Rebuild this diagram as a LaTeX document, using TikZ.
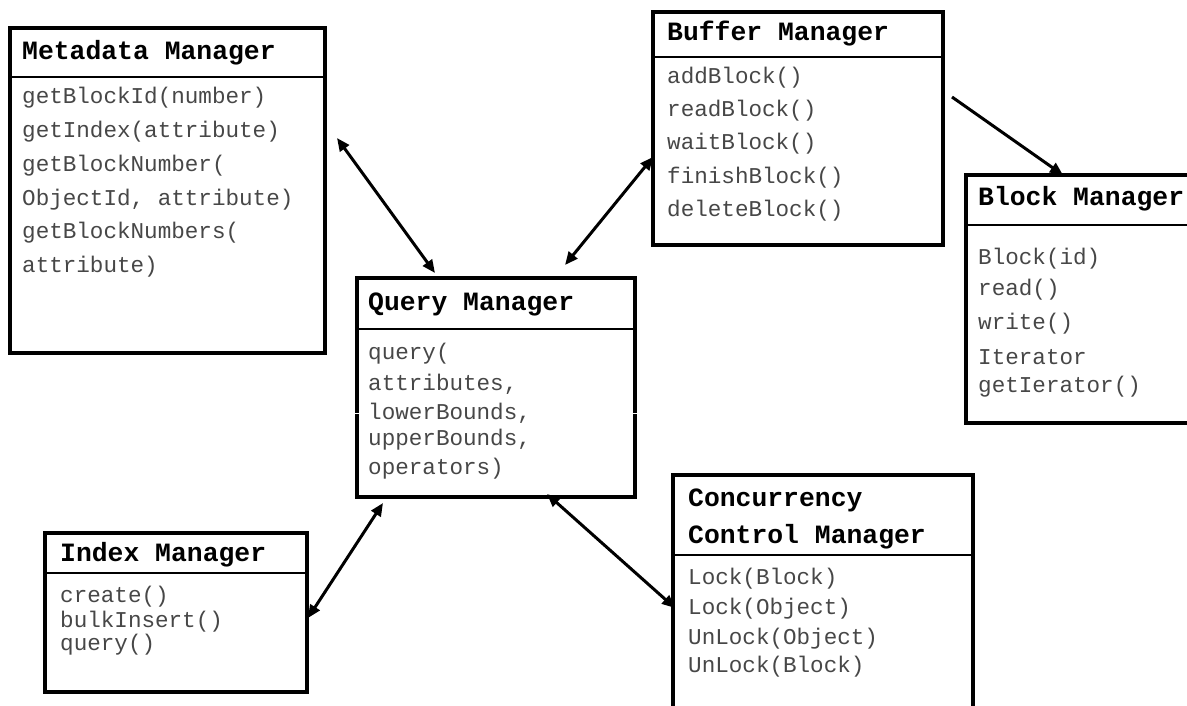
\documentclass[tikz,border=0pt]{standalone}
\usepackage{fontspec}
\setmonofont{Liberation Mono}
\usetikzlibrary{arrows.meta}
\begin{document}
\begin{tikzpicture}[x=1pt,y=-1pt,
  box/.style={draw, rectangle, line width=3.4pt, inner sep=0pt, outer sep=0pt, anchor=north west},
  sep/.style={line width=2pt},
  ttl/.style={anchor=base west, inner sep=0pt, font=\ttfamily\bfseries\fontsize{26.4}{30}\selectfont},
  itm/.style={anchor=base west, inner sep=0pt, text=black!72, font=\ttfamily\fontsize{22.6}{26}\selectfont},
  link/.style={line width=3pt, {Triangle[length=13pt,width=11pt]}-{Triangle[length=13pt,width=11pt]}},
  onelink/.style={line width=3pt, -{Triangle[length=13pt,width=11pt]}}]
\path[use as bounding box, clip] (0,0) rectangle (1187,706);
\fill[white] (0,0) rectangle (1187,706);

% ---------- Metadata Manager
\node[box, minimum width=315pt, minimum height=325pt] (meta) at (10,28) {};
\draw[sep] (meta.west |- 0,77) -- (meta.east |- 0,77);
\node[ttl] (metaT) at (22,60) {Metadata Manager};
\node[itm] (meta1) at (22,104) {getBlockId(number)};
\node[itm] (meta2) at (22,138) {getIndex(attribute)};
\node[itm] (meta3) at (22,172) {getBlockNumber(};
\node[itm] (meta4) at (22,206) {ObjectId, attribute)};
\node[itm] (meta5) at (22,239) {getBlockNumbers(};
\node[itm] (meta6) at (22,272) {attribute)};

% ---------- Buffer Manager
\node[box, minimum width=290pt, minimum height=233pt] (buf) at (653,12) {};
\draw[sep] (buf.west |- 0,57) -- (buf.east |- 0,57);
\node[ttl] (bufT) at (667,41) {Buffer Manager};
\node[itm] (buf1) at (667,84) {addBlock()};
\node[itm] (buf2) at (667,117) {readBlock()};
\node[itm] (buf3) at (667,150) {waitBlock()};
\node[itm] (buf4) at (667,184) {finishBlock()};
\node[itm] (buf5) at (667,217) {deleteBlock()};

% ---------- Block Manager
\node[box, minimum width=240pt, minimum height=248pt] (blk) at (966,175) {};
\draw[sep] (blk.west |- 0,225) -- (blk.east |- 0,225);
\node[ttl] (blkT) at (978,206) {Block Manager};
\node[itm] (blk1) at (978,264) {Block(id)};
\node[itm] (blk2) at (978,295) {read()};
\node[itm] (blk3) at (978,329) {write()};
\node[itm] (blk4) at (978,364) {Iterator};
\node[itm] (blk5) at (978,392) {getIerator()};

% ---------- Query Manager
\node[box, minimum width=278pt, minimum height=219pt] (query) at (357,278) {};
\draw[sep] (query.west |- 0,329) -- (query.east |- 0,329);
\node[ttl] (queryT) at (368,310) {Query Manager};
\node[itm] (query1) at (368,359) {query(};
\node[itm] (query2) at (368,390) {attributes,};
\node[itm] (query3) at (368,419) {lowerBounds,};
\node[itm] (query4) at (368,445) {upperBounds,};
\node[itm] (query5) at (368,474) {operators)};
\draw[white, line width=1pt] (query.west |- 0,413) ++(-4,0) -- ++(8,0);
\draw[white, line width=1pt] (query.east |- 0,413) ++(-4,0) -- ++(8,0);

% ---------- Index Manager
\node[box, minimum width=262pt, minimum height=159pt] (index) at (45,533) {};
\draw[sep] (index.west |- 0,573) -- (index.east |- 0,573);
\node[ttl] (indexT) at (60,561) {Index Manager};
\node[itm] (index1) at (60,602) {create()};
\node[itm] (index2) at (60,627) {bulkInsert()};
\node[itm] (index3) at (60,650) {query()};

% ---------- Concurrency Control Manager
\node[box, minimum width=300pt, minimum height=245pt] (conc) at (673,475) {};
\draw[sep] (conc.west |- 0,555) -- (conc.east |- 0,555);
\node[ttl] (concT1) at (688,506) {Concurrency};
\node[ttl] (concT2) at (688,543) {Control Manager};
\node[itm] (conc1) at (688,584) {Lock(Block)};
\node[itm] (conc2) at (688,614) {Lock(Object)};
\node[itm] (conc3) at (688,644) {UnLock(Object)};
\node[itm] (conc4) at (688,672) {UnLock(Block)};

% ---------- connectors
\draw[link] ([shift={(12,110)}]meta.north east) -- ([shift={(78,-5)}]query.north west);
\draw[link] ([shift={(0,145)}]buf.north west) -- ([shift={(208,-13)}]query.north west);
\draw[onelink] ([shift={(9,85)}]buf.north east) -- ([shift={(97,0)}]blk.north west);
\draw[link] ([shift={(26,6)}]query.south west) -- ([shift={(1,85)}]index.north east);
\draw[link] ([shift={(190,-3)}]query.south west) -- ([shift={(2,133)}]conc.north west);
\end{tikzpicture}
\end{document}
